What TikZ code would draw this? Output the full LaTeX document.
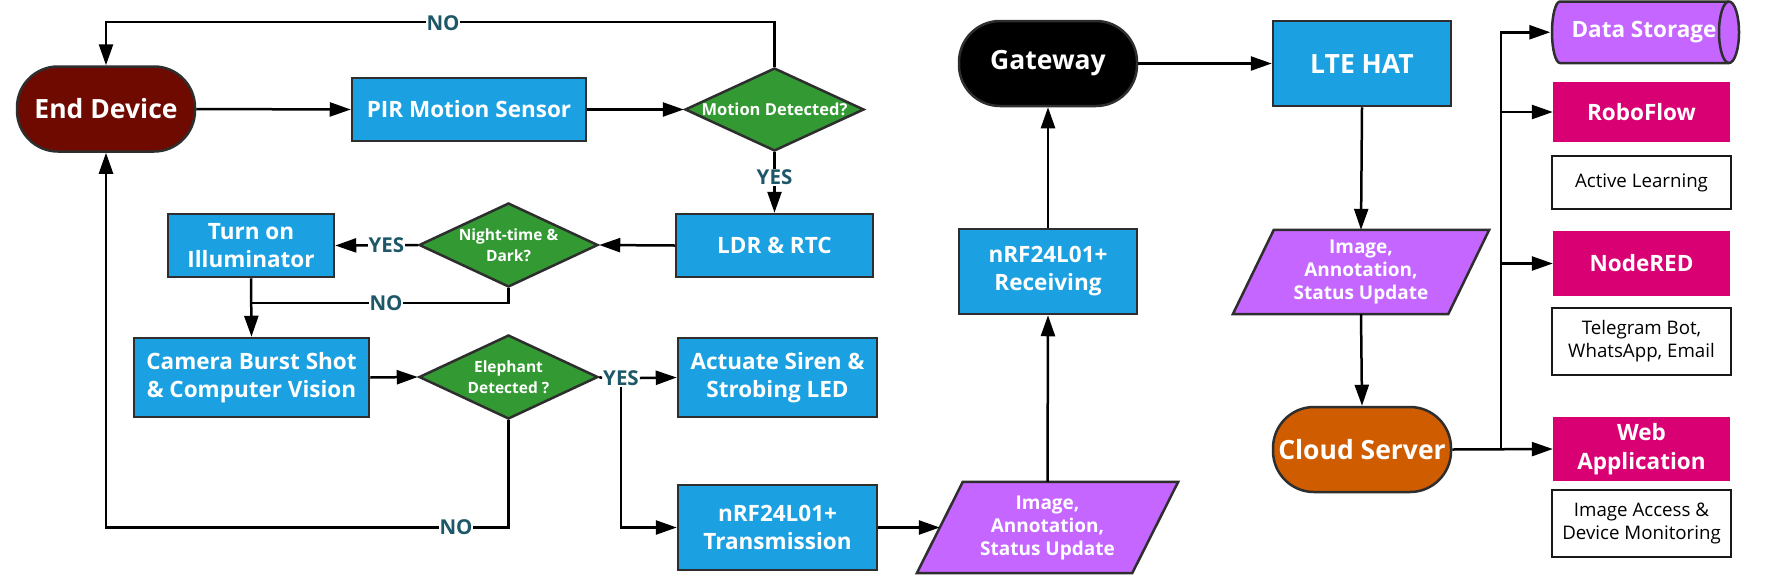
\documentclass[tikz,border=0pt]{standalone}
\usepackage{fontspec}
\setmainfont{Open Sans}
\usetikzlibrary{arrows.meta,shapes.geometric,calc,backgrounds}
\definecolor{cblue}{HTML}{1BA1E2}
\definecolor{cgreen}{HTML}{339933}
\definecolor{cdred}{HTML}{6F0A00}
\definecolor{cpurple}{HTML}{C466FF}
\definecolor{cmag}{HTML}{D80073}
\definecolor{corange}{HTML}{D05C00}
\definecolor{cborder}{HTML}{2E2E2E}
\definecolor{clabel}{HTML}{1E5868}
\begin{document}
\begin{tikzpicture}[x=1pt,y=-1pt,
  box/.style={draw=cborder,line width=2.5pt,fill=cblue,text=white,align=center,inner sep=0pt,
    font=\bfseries\fontsize{22.5}{28}\selectfont},
  term/.style={draw=cborder,line width=2.5pt,rounded corners=41pt,text=white,align=center,inner sep=0pt,
    minimum width=178pt,minimum height=85pt,font=\bfseries\fontsize{26.5}{30}\selectfont},
  dec/.style={diamond,aspect=2.13,draw=cborder,line width=2.5pt,fill=cgreen,text=white,align=center,inner sep=0pt,
    minimum width=179pt,minimum height=84pt,font=\bfseries\fontsize{15.5}{20.5}\selectfont},
  plain/.style={inner sep=0pt,align=center,text=white,font=\bfseries\fontsize{19}{23}\selectfont},
  parashape/.style={draw=cborder,line width=2.5pt,fill=cpurple,line join=miter},
  mag/.style={fill=cmag,text=white,align=center,inner sep=0pt,minimum width=177pt,
    font=\bfseries\fontsize{22.5}{28.5}\selectfont},
  wbox/.style={draw=black!90,line width=2.5pt,fill=white,text=black,align=center,inner sep=0pt,minimum width=179pt,
    font=\fontsize{18.7}{23}\selectfont},
  arr/.style={draw=black,line width=2.5pt,-{Triangle[length=21pt,width=14pt]}},
  ln/.style={draw=black,line width=2.5pt},
  lab/.style={fill=white,text=clabel,inner sep=1pt,font=\bfseries\fontsize{20.5}{20.5}\selectfont}
]
\useasboundingbox (0,0) rectangle (1766,587);

% ---- left part
\node[term,fill=cdred] (end) at (106,109) {End Device};
\node[box,minimum width=234pt,minimum height=63pt] (pir) at (469,109.5) {PIR Motion Sensor};
\node[dec,minimum height=83pt,font=\bfseries\fontsize{16.5}{20.5}\selectfont] (mot) at (774.5,109.5) {Motion Detected?};
\node[box,minimum width=197pt,minimum height=63pt] (ldr) at (774.5,245.5) {LDR \& RTC};
\node[dec] (night) at (508.5,245) {Night-time \&\\Dark?};
\node[box,minimum width=166pt,minimum height=63pt] (ill) at (251,245.5) {Turn on\\Illuminator};
\node[box,minimum width=235pt,minimum height=79pt] (cam) at (251.5,377.5) {Camera Burst Shot\\\& Computer Vision};
\node[dec] (ele) at (508.5,377) {Elephant\\Detected ?};
\node[box,minimum width=199pt,minimum height=79pt] (siren) at (777.5,377.5) {Actuate Siren \&\\Strobing LED};
\node[box,minimum width=199pt,minimum height=85pt] (tx) at (777.5,527.5) {nRF24L01+\\Transmission};

% ---- middle part
\node[plain,minimum width=261pt,minimum height=91pt] (p1) at (1047.5,527.5) {Image,\\Annotation,\\Status Update};
\node[box,minimum width=178pt,minimum height=85pt] (rx) at (1048,271.5) {nRF24L01+\\Receiving};
\node[term,fill=black] (gw) at (1048,63.5) {Gateway};
\node[box,minimum width=178pt,minimum height=85pt,font=\bfseries\fontsize{26.5}{30}\selectfont] (lte) at (1362,63.5) {LTE HAT};
\node[plain,minimum width=256pt,minimum height=84pt] (p2) at (1361,272) {Image,\\Annotation,\\Status Update};
\node[term,fill=corange] (cloud) at (1362,449.5) {Cloud Server};

% ---- right part
\node[plain,minimum width=187pt,minimum height=61.5pt,font=\bfseries\fontsize{22.5}{28}\selectfont] (ds) at (1644,32.25) {Data Storage};
\node[mag,minimum height=60pt] (robo) at (1641.5,112) {RoboFlow};
\node[wbox,minimum height=53pt] (al) at (1641.5,182.5) {Active Learning};
\node[mag,minimum height=65pt] (nr) at (1641.5,263.5) {NodeRED};
\node[wbox,minimum height=67pt] (tg) at (1641.5,341.5) {Telegram Bot,\\WhatsApp, Email};
\node[mag,minimum height=64pt] (web) at (1641.5,449) {Web\\Application};
\node[wbox,minimum height=67pt] (ia) at (1641.5,523.5) {Image Access \&\\Device Monitoring};

% ---- shapes drawn behind text
\begin{scope}[on background layer]
  \fill[white] (0,0) rectangle (1766,587);
  \draw[parashape] ($(p1.north west)+(46,0)$) -- (p1.north east) -- ($(p1.south east)+(-46,0)$) -- (p1.south west) -- cycle;
  \draw[parashape] ($(p2.north west)+(41,0)$) -- (p2.north east) -- ($(p2.south east)+(-41,0)$) -- (p2.south west) -- cycle;
  \draw[draw=cborder,line width=2.5pt,fill=cpurple] (1560,1.5) -- (1729,1.5)
     arc[start angle=-90,end angle=90,x radius=10,y radius=30.75] -- (1560,63)
     arc[start angle=90,end angle=270,x radius=8,y radius=30.75] -- cycle;
  \draw[draw=cborder,line width=2.5pt] (1729,1.5) arc[start angle=-90,end angle=-270,x radius=10,y radius=30.75];
\end{scope}

\coordinate (p1in) at ($(p1.west)+(23,0)$);
\coordinate (j1) at (251,303);
\coordinate (br) at (1501,449.5);

% ---- connectors
\draw[arr] (end.east) -- (pir.west);
\draw[arr] (pir.east) -- (mot.west);
\draw[arr] (mot.north) -- ++(0,-45) -| (end.north);
\draw[arr] (mot.south) -- node[lab,pos=0.42]{YES} (ldr.north);
\draw[arr] (ldr.west) -- (night.east);
\draw[arr] (night.west) -- node[lab,pos=0.38]{YES} (ill.east);
\draw[arr] (ill.south) -- (cam.north);
\draw[ln] (night.south) |- (j1);
\draw[arr] (cam.east) -- (ele.west);
\node[lab] (yes3) at (621,378) {YES};
\draw[ln] (ele.east) -- (yes3.west);
\draw[arr] (yes3.east) -- (siren.west);
\draw[arr] (yes3.south) |- (tx.west);
\draw[arr] (ele.south) -- (ele.south |- tx.west) -| (end.south);
\draw[arr] (tx.east) -- (p1in);
\draw[arr] (p1.north) -- (rx.south);
\draw[arr] (rx.north) -- (gw.south);
\draw[arr] (gw.east) -- (lte.west);
\draw[arr] (lte.south) -- (p2.north);
\draw[arr] (p2.south) -- (cloud.north);
\draw[arr] (cloud.east) -- (web.west);
\draw[arr] (br) |- (ds.west);
\draw[arr] (br) |- (robo.west);
\draw[arr] (br) |- (nr.west);

% ---- edge labels on lines
\node[lab] at (443,23) {NO};
\node[lab] at (386,303) {NO};
\node[lab] at (456,527.5) {NO};
\end{tikzpicture}
\end{document}
